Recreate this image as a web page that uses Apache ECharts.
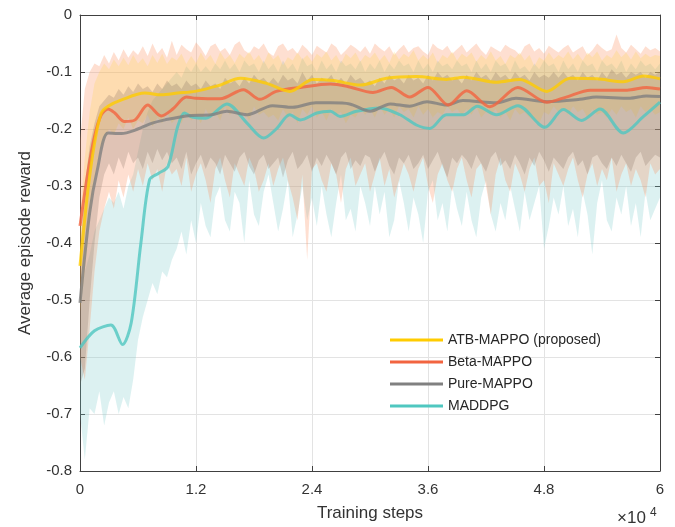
<!DOCTYPE html>
<html>
<head>
<meta charset="utf-8">
<script src="https://cdn.jsdelivr.net/npm/echarts@6/dist/echarts.min.js"></script>
<style>
html, body { margin: 0; padding: 0; background: #fff; }
#main { width: 675px; height: 527px; }
</style>
</head>
<body>
<div id="main"></div>
<script>
// x grid of the shaded bands (x10^4 steps), 0 .. 6 every 0.05
var bandSteps = [];
for (var i = 0; i <= 120; i++) bandSteps.push(Math.round(i * 5) / 100);

// mean curves
var atbX  = [0, 0.08, 0.15, 0.22, 0.29, 0.43, 0.67, 0.84, 1.01, 1.19, 1.43, 1.66, 1.93, 2.17, 2.41, 2.62, 2.9, 3.17, 3.48, 3.79, 3.97, 4.31, 4.55, 4.83, 5.07, 5.35, 5.62, 5.83, 6];
var atbY  = [-0.44, -0.31, -0.225, -0.172, -0.16, -0.149, -0.137, -0.14, -0.137, -0.134, -0.124, -0.111, -0.12, -0.134, -0.113, -0.115, -0.123, -0.111, -0.108, -0.113, -0.109, -0.118, -0.113, -0.134, -0.111, -0.112, -0.117, -0.107, -0.112];
var betaX = [0, 0.08, 0.15, 0.22, 0.29, 0.36, 0.46, 0.57, 0.7, 0.84, 0.96, 1.1, 1.2, 1.45, 1.69, 1.86, 2.03, 2.28, 2.59, 2.76, 3.03, 3.22, 3.41, 3.6, 3.81, 4.0, 4.24, 4.53, 4.83, 5.03, 5.28, 5.66, 5.86, 6];
var betaY = [-0.37, -0.277, -0.213, -0.175, -0.165, -0.172, -0.187, -0.184, -0.158, -0.177, -0.165, -0.144, -0.146, -0.147, -0.131, -0.148, -0.134, -0.127, -0.121, -0.125, -0.136, -0.127, -0.144, -0.127, -0.158, -0.133, -0.161, -0.127, -0.153, -0.144, -0.132, -0.132, -0.127, -0.13];
var pureX = [0, 0.1, 0.18, 0.29, 0.43, 0.57, 0.74, 0.88, 1.1, 1.36, 1.52, 1.73, 1.99, 2.2, 2.44, 2.59, 2.79, 3.0, 3.21, 3.41, 3.59, 3.79, 3.96, 4.31, 4.51, 4.83, 5.17, 5.34, 5.69, 5.86, 6];
var pureY = [-0.505, -0.347, -0.271, -0.207, -0.208, -0.202, -0.19, -0.184, -0.177, -0.175, -0.169, -0.175, -0.159, -0.162, -0.154, -0.154, -0.156, -0.169, -0.156, -0.16, -0.152, -0.158, -0.15, -0.154, -0.146, -0.152, -0.148, -0.144, -0.146, -0.142, -0.143];
var maddX = [0, 0.15, 0.32, 0.44, 0.53, 0.63, 0.72, 0.81, 0.91, 1.01, 1.08, 1.16, 1.3, 1.52, 1.73, 1.9, 2.03, 2.17, 2.28, 2.45, 2.59, 2.69, 2.86, 3.1, 3.31, 3.48, 3.62, 3.79, 3.97, 4.11, 4.31, 4.53, 4.81, 5.0, 5.19, 5.38, 5.62, 5.83, 6];
var maddY = [-0.584, -0.554, -0.544, -0.578, -0.54, -0.4, -0.289, -0.278, -0.266, -0.196, -0.172, -0.179, -0.181, -0.156, -0.19, -0.216, -0.2, -0.175, -0.184, -0.172, -0.169, -0.178, -0.169, -0.163, -0.175, -0.193, -0.199, -0.175, -0.175, -0.16, -0.175, -0.159, -0.197, -0.166, -0.185, -0.165, -0.207, -0.178, -0.153];

// shaded bands (upper / lower), on bandSteps
var atbHi = [
  -0.36, -0.25, -0.17, -0.12, -0.1, -0.085, -0.095, -0.078, -0.09, -0.075,
  -0.088, -0.07, -0.085, -0.076, -0.09, -0.07, -0.084, -0.068, -0.086, -0.074,
  -0.08, -0.068, -0.086, -0.072, -0.084, -0.066, -0.08, -0.07, -0.086, -0.065,
  -0.078, -0.07, -0.084, -0.068, -0.076, -0.064, -0.08, -0.07, -0.085, -0.066,
  -0.078, -0.07, -0.088, -0.074, -0.08, -0.066, -0.078, -0.07, -0.082, -0.068,
  -0.075, -0.064, -0.08, -0.07, -0.085, -0.068, -0.076, -0.066, -0.082, -0.07,
  -0.076, -0.066, -0.08, -0.07, -0.084, -0.064, -0.078, -0.068, -0.074, -0.062,
  -0.08, -0.07, -0.078, -0.066, -0.084, -0.07, -0.076, -0.064, -0.08, -0.068,
  -0.074, -0.066, -0.082, -0.07, -0.078, -0.064, -0.08, -0.072, -0.086, -0.07,
  -0.076, -0.066, -0.08, -0.07, -0.09, -0.074, -0.08, -0.066, -0.078, -0.07,
  -0.076, -0.064, -0.078, -0.068, -0.08, -0.066, -0.074, -0.064, -0.08, -0.07,
  -0.076, -0.062, -0.074, -0.066, -0.078, -0.064, -0.076, -0.068, -0.074, -0.07,
  -0.072];
var atbLo = [
  -0.52, -0.45, -0.36, -0.29, -0.24, -0.22, -0.2, -0.21, -0.19, -0.2,
  -0.18, -0.2, -0.185, -0.19, -0.175, -0.195, -0.18, -0.19, -0.17, -0.19,
  -0.18, -0.19, -0.17, -0.185, -0.175, -0.19, -0.165, -0.18, -0.17, -0.185,
  -0.16, -0.175, -0.165, -0.18, -0.17, -0.185, -0.16, -0.175, -0.17, -0.18,
  -0.175, -0.185, -0.165, -0.18, -0.17, -0.19, -0.165, -0.175, -0.16, -0.18,
  -0.17, -0.185, -0.165, -0.175, -0.17, -0.19, -0.175, -0.18, -0.165, -0.175,
  -0.165, -0.18, -0.16, -0.175, -0.165, -0.18, -0.16, -0.17, -0.165, -0.18,
  -0.16, -0.175, -0.165, -0.18, -0.17, -0.175, -0.16, -0.17, -0.165, -0.175,
  -0.165, -0.175, -0.16, -0.18, -0.17, -0.175, -0.165, -0.18, -0.17, -0.185,
  -0.165, -0.175, -0.17, -0.18, -0.185, -0.19, -0.17, -0.175, -0.16, -0.17,
  -0.165, -0.175, -0.16, -0.17, -0.165, -0.18, -0.165, -0.175, -0.17, -0.18,
  -0.165, -0.175, -0.16, -0.17, -0.165, -0.18, -0.16, -0.17, -0.165, -0.175,
  -0.17];
var betaHi = [
  -0.22, -0.13, -0.1, -0.085, -0.09, -0.07, -0.085, -0.065, -0.08, -0.06,
  -0.075, -0.062, -0.07, -0.055, -0.072, -0.05, -0.068, -0.058, -0.075, -0.045,
  -0.07, -0.052, -0.06, -0.066, -0.048, -0.058, -0.072, -0.055, -0.05, -0.064,
  -0.058, -0.07, -0.052, -0.046, -0.062, -0.068, -0.055, -0.06, -0.05, -0.066,
  -0.072, -0.055, -0.05, -0.063, -0.058, -0.068, -0.052, -0.06, -0.07, -0.054,
  -0.06, -0.066, -0.05, -0.056, -0.07, -0.062, -0.052, -0.058, -0.065, -0.055,
  -0.068, -0.05, -0.058, -0.064, -0.055, -0.07, -0.06, -0.052, -0.066, -0.058,
  -0.055, -0.064, -0.07, -0.05, -0.058, -0.062, -0.054, -0.068, -0.06, -0.052,
  -0.066, -0.058, -0.05, -0.062, -0.07, -0.055, -0.06, -0.065, -0.052, -0.058,
  -0.062, -0.07, -0.055, -0.05, -0.064, -0.058, -0.068, -0.054, -0.06, -0.066,
  -0.058, -0.052, -0.066, -0.06, -0.055, -0.07, -0.062, -0.05, -0.058, -0.064,
  -0.06, -0.034, -0.058, -0.066, -0.052, -0.06, -0.068, -0.055, -0.062, -0.058,
  -0.064];
var betaLo = [
  -0.6, -0.64, -0.55, -0.45, -0.38, -0.34, -0.31, -0.34, -0.29, -0.32,
  -0.28, -0.31, -0.27, -0.3, -0.26, -0.29, -0.27, -0.31, -0.26, -0.28,
  -0.27, -0.3, -0.25, -0.31, -0.28, -0.26, -0.29, -0.33, -0.27, -0.25,
  -0.29, -0.32, -0.26, -0.28, -0.3, -0.25, -0.27, -0.31, -0.29, -0.26,
  -0.3, -0.27, -0.25, -0.29, -0.32, -0.36, -0.28, -0.43, -0.27, -0.26,
  -0.29, -0.31, -0.26, -0.28, -0.33, -0.27, -0.25, -0.3, -0.28, -0.26,
  -0.31, -0.28, -0.25, -0.3, -0.27, -0.32, -0.29, -0.26, -0.28, -0.31,
  -0.27, -0.25, -0.3, -0.33, -0.28, -0.26, -0.29, -0.31, -0.27, -0.25,
  -0.29, -0.32, -0.27, -0.26, -0.3, -0.35, -0.28, -0.25, -0.29, -0.31,
  -0.26, -0.28, -0.31, -0.27, -0.25, -0.3, -0.29, -0.33, -0.26, -0.28,
  -0.3, -0.27, -0.25, -0.29, -0.32, -0.28, -0.26, -0.3, -0.27, -0.29,
  -0.25, -0.31, -0.28, -0.26, -0.3, -0.27, -0.29, -0.32, -0.26, -0.28,
  -0.27];
var pureHi = [
  -0.42, -0.3, -0.23, -0.19, -0.16, -0.15, -0.14, -0.145, -0.13, -0.14,
  -0.125, -0.135, -0.12, -0.13, -0.125, -0.135, -0.12, -0.13, -0.115, -0.125,
  -0.12, -0.13, -0.115, -0.125, -0.12, -0.13, -0.115, -0.125, -0.12, -0.13,
  -0.11, -0.12, -0.115, -0.125, -0.11, -0.12, -0.105, -0.115, -0.11, -0.12,
  -0.11, -0.12, -0.105, -0.115, -0.11, -0.12, -0.1, -0.115, -0.105, -0.12,
  -0.11, -0.115, -0.105, -0.12, -0.11, -0.12, -0.105, -0.115, -0.11, -0.12,
  -0.115, -0.125, -0.11, -0.12, -0.105, -0.115, -0.11, -0.12, -0.105, -0.115,
  -0.11, -0.12, -0.105, -0.115, -0.1, -0.11, -0.105, -0.115, -0.11, -0.12,
  -0.105, -0.115, -0.1, -0.11, -0.105, -0.115, -0.1, -0.11, -0.105, -0.115,
  -0.1, -0.11, -0.105, -0.115, -0.1, -0.11, -0.105, -0.11, -0.1, -0.11,
  -0.1, -0.11, -0.105, -0.115, -0.1, -0.11, -0.105, -0.115, -0.1, -0.11,
  -0.095, -0.105, -0.1, -0.11, -0.1, -0.105, -0.1, -0.11, -0.1, -0.105,
  -0.1];
var pureLo = [
  -0.65, -0.62, -0.5, -0.4, -0.32, -0.28, -0.26, -0.28, -0.25, -0.27,
  -0.24, -0.26, -0.25, -0.27, -0.24, -0.26, -0.235, -0.255, -0.24, -0.26,
  -0.25, -0.27, -0.24, -0.28, -0.26, -0.245, -0.27, -0.25, -0.26, -0.28,
  -0.245, -0.26, -0.275, -0.25, -0.24, -0.265, -0.28, -0.255, -0.245, -0.27,
  -0.26, -0.25, -0.285, -0.255, -0.24, -0.27, -0.26, -0.245, -0.275, -0.25,
  -0.265, -0.245, -0.26, -0.28, -0.25, -0.24, -0.27, -0.255, -0.265, -0.245,
  -0.25, -0.275, -0.255, -0.24, -0.265, -0.28, -0.25, -0.26, -0.245, -0.27,
  -0.26, -0.245, -0.27, -0.255, -0.24, -0.265, -0.285, -0.25, -0.26, -0.245,
  -0.255, -0.27, -0.245, -0.26, -0.275, -0.25, -0.24, -0.265, -0.255, -0.27,
  -0.245, -0.26, -0.28, -0.25, -0.265, -0.24, -0.255, -0.275, -0.25, -0.26,
  -0.27, -0.25, -0.24, -0.265, -0.255, -0.28, -0.25, -0.245, -0.26, -0.27,
  -0.25, -0.265, -0.245, -0.26, -0.275, -0.25, -0.24, -0.265, -0.255, -0.245,
  -0.25];
var maddHi = [
  -0.5, -0.45, -0.42, -0.38, -0.36, -0.34, -0.32, -0.33, -0.31, -0.34,
  -0.3, -0.28, -0.24, -0.2, -0.17, -0.15, -0.14, -0.13, -0.12, -0.11,
  -0.1, -0.11, -0.09, -0.1, -0.085, -0.1, -0.09, -0.1, -0.085, -0.095,
  -0.08, -0.095, -0.085, -0.1, -0.08, -0.09, -0.085, -0.1, -0.08, -0.095,
  -0.085, -0.1, -0.08, -0.095, -0.085, -0.1, -0.075, -0.09, -0.085, -0.1,
  -0.08, -0.095, -0.085, -0.1, -0.08, -0.09, -0.085, -0.095, -0.08, -0.1,
  -0.085, -0.095, -0.08, -0.1, -0.085, -0.095, -0.08, -0.09, -0.085, -0.1,
  -0.08, -0.095, -0.085, -0.1, -0.08, -0.09, -0.085, -0.095, -0.08, -0.09,
  -0.085, -0.1, -0.08, -0.095, -0.085, -0.1, -0.08, -0.09, -0.085, -0.1,
  -0.08, -0.095, -0.09, -0.1, -0.085, -0.095, -0.08, -0.09, -0.085, -0.1,
  -0.08, -0.095, -0.085, -0.1, -0.08, -0.09, -0.085, -0.1, -0.08, -0.09,
  -0.085, -0.095, -0.08, -0.1, -0.085, -0.095, -0.08, -0.09, -0.085, -0.095,
  -0.085];
var maddLo = [
  -0.7, -0.78, -0.69, -0.7, -0.66, -0.72, -0.68, -0.66, -0.7, -0.67,
  -0.69, -0.64, -0.57, -0.53, -0.5, -0.47, -0.49, -0.45, -0.46, -0.43,
  -0.41, -0.38, -0.42, -0.36, -0.4, -0.33, -0.37, -0.39, -0.32, -0.3,
  -0.36, -0.38, -0.31, -0.33, -0.4, -0.29, -0.35, -0.37, -0.31, -0.28,
  -0.33, -0.38, -0.34, -0.29, -0.39, -0.35, -0.3, -0.36, -0.32, -0.37,
  -0.3, -0.35, -0.39, -0.33, -0.28, -0.36, -0.34, -0.38, -0.3, -0.33,
  -0.37, -0.3, -0.35, -0.31, -0.39, -0.36, -0.29, -0.33, -0.38, -0.32,
  -0.35, -0.4, -0.31, -0.29, -0.36, -0.33, -0.38, -0.3, -0.34, -0.37,
  -0.31, -0.36, -0.39, -0.32, -0.29, -0.35, -0.38, -0.33, -0.36, -0.3,
  -0.34, -0.38, -0.31, -0.36, -0.33, -0.3, -0.41, -0.37, -0.32, -0.35,
  -0.3, -0.37, -0.34, -0.39, -0.31, -0.35, -0.42, -0.33, -0.29, -0.36,
  -0.38, -0.32, -0.35, -0.3, -0.37, -0.33, -0.39, -0.31, -0.36, -0.34,
  -0.32];

var names = ['ATB-MAPPO (proposed)', 'Beta-MAPPO', 'Pure-MAPPO', 'MADDPG'];
var lineColors = ['#FFCC00', '#F26440', '#808080', '#4FC7C0'];

var FONT = 'Arial, "Liberation Sans", Helvetica, sans-serif';

function pairs(xs, ys) {
  return xs.map(function (x, i) { return [x, ys[i]]; });
}

// one filled polygon between lo and hi, placed through the axes with api.coord
function band(lo, hi, color) {
  return {
    type: 'custom', silent: true, z: 1,
    data: [0],
    renderItem: function (params, api) {
      var pts = [];
      for (var i = 0; i < bandSteps.length; i++) pts.push(api.coord([bandSteps[i], hi[i]]));
      for (var j = bandSteps.length - 1; j >= 0; j--) pts.push(api.coord([bandSteps[j], lo[j]]));
      return { type: 'polygon', shape: { points: pts }, style: { fill: color } };
    }
  };
}

function meanLine(idx, xs, ys) {
  return {
    type: 'line', name: names[idx], data: pairs(xs, ys),
    symbol: 'none', smooth: 0.3, z: 5,
    itemStyle: { color: lineColors[idx] },
    lineStyle: { width: 3, color: lineColors[idx], opacity: 0.8 }
  };
}

var series = [
  band(maddLo, maddHi, 'rgba(115,200,200,0.25)'),
  band(betaLo, betaHi, 'rgba(250,140,90,0.28)'),
  band(atbLo, atbHi, 'rgba(255,210,60,0.22)'),
  band(pureLo, pureHi, 'rgba(120,95,80,0.22)'),
  meanLine(3, maddX, maddY),
  meanLine(2, pureX, pureY),
  meanLine(1, betaX, betaY),
  meanLine(0, atbX, atbY)
];

var axisLineStyle = { color: '#404040', width: 1 };
var gridLine = { show: true, lineStyle: { color: '#e3e3e3', width: 1 } };

var myChart = echarts.init(document.getElementById('main'), null, { renderer: 'canvas' });

var option = {
  animation: false,
  backgroundColor: '#fff',
  textStyle: { fontFamily: FONT },
  grid: { left: 80, right: 15, top: 15, bottom: 55, containLabel: false },
  legend: {
    data: names,
    orient: 'vertical',
    left: 385,
    top: 327,
    icon: 'rect',
    itemWidth: 53,
    itemHeight: 3,
    itemGap: 6,
    textStyle: { fontSize: 14, color: '#262626', fontFamily: FONT, lineHeight: 16 },
    itemStyle: { opacity: 1 }
  },
  xAxis: [
    {
      type: 'value', min: 0, max: 6, interval: 1.2,
      name: 'Training steps', nameLocation: 'middle', nameGap: 34,
      nameTextStyle: { fontSize: 17, color: '#333', fontFamily: FONT },
      axisLine: { show: true, onZero: false, lineStyle: axisLineStyle },
      axisTick: { show: true, inside: true, length: 5, lineStyle: axisLineStyle },
      axisLabel: { fontSize: 15, color: '#333', margin: 11, fontFamily: FONT },
      splitLine: gridLine
    },
    {
      type: 'value', position: 'top', min: 0, max: 6, interval: 1.2,
      axisLine: { show: true, onZero: false, lineStyle: axisLineStyle },
      axisTick: { show: true, inside: true, length: 5, lineStyle: axisLineStyle },
      axisLabel: { show: false },
      splitLine: { show: false }
    }
  ],
  yAxis: [
    {
      type: 'value', min: -0.8, max: 0, interval: 0.1,
      name: 'Average episode reward', nameLocation: 'middle', nameGap: 46,
      nameTextStyle: { fontSize: 17, color: '#333', fontFamily: FONT },
      axisLine: { show: true, onZero: false, lineStyle: axisLineStyle },
      axisTick: { show: true, inside: true, length: 5, lineStyle: axisLineStyle },
      axisLabel: { fontSize: 15, color: '#333', margin: 8, fontFamily: FONT },
      splitLine: gridLine
    },
    {
      type: 'value', position: 'right', min: -0.8, max: 0, interval: 0.1,
      axisLine: { show: true, onZero: false, lineStyle: axisLineStyle },
      axisTick: { show: true, inside: true, length: 5, lineStyle: axisLineStyle },
      axisLabel: { show: false },
      splitLine: { show: false }
    }
  ],
  graphic: [
    { type: 'text', left: 617, top: 510, style: { text: '×10', font: '17px ' + FONT, fill: '#333' } },
    { type: 'text', left: 650, top: 507, style: { text: '4', font: '12px ' + FONT, fill: '#333' } }
  ],
  series: series
};

myChart.setOption(option);
</script>
</body>
</html>
